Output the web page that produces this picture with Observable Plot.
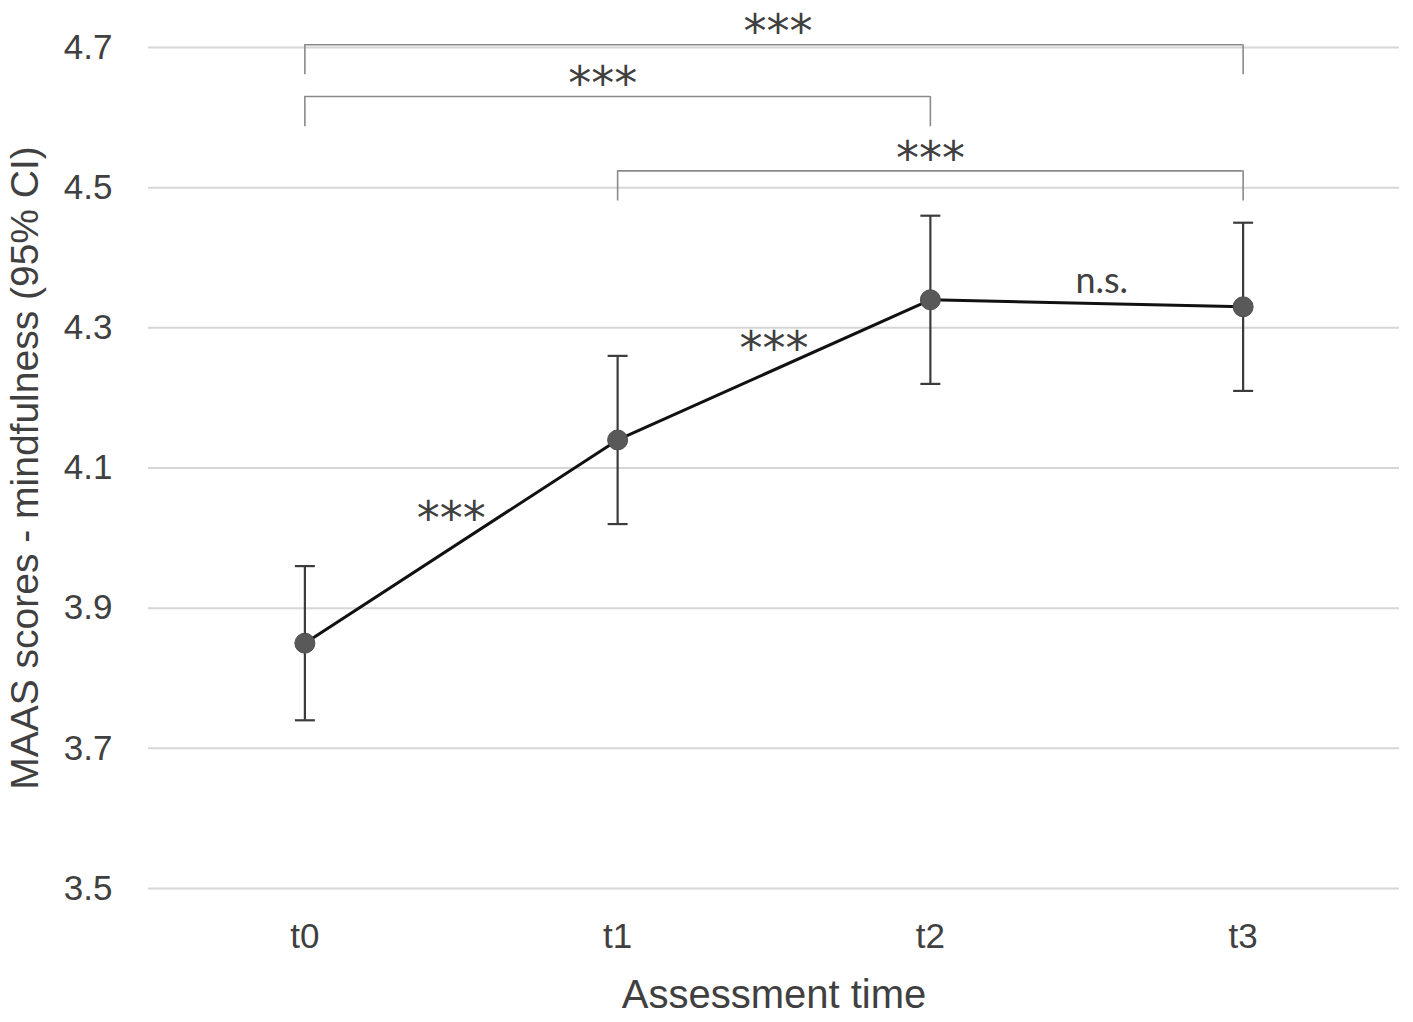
<!DOCTYPE html>
<html>
<head>
<meta charset="utf-8">
<script src="https://cdn.jsdelivr.net/npm/d3@7"></script>
<script src="https://cdn.jsdelivr.net/npm/@observablehq/plot@0.6"></script>
<style>
  html, body { margin: 0; padding: 0; background: #fff; }
  #chart { width: 1413px; height: 1022px; }
</style>
</head>
<body>
<div id="chart"></div>
<script>
// ---- data ----
const times = ["t0", "t1", "t2", "t3"];
const means = [3.85, 4.14, 4.34, 4.33];
const ciLow = [3.74, 4.02, 4.22, 4.21];
const ciHigh = [3.96, 4.26, 4.46, 4.45];
const yTicks = [3.5, 3.7, 3.9, 4.1, 4.3, 4.5, 4.7];
const segmentLabels = ["***", "***", "n.s."];
const bracketFrom = [0, 0, 1];
const bracketTo = [3, 2, 3];
const bracketLabels = ["***", "***", "***"];
const bracketLevel = [4.704, 4.63, 4.524];
const bracketDrop = 0.043;
const yLabel = "MAAS scores - mindfulness (95% CI)";
const xLabel = "Assessment time";

// ---- tables built from arrays ----
const pts = times.map((t, i) => ({i, t, m: means[i], lo: ciLow[i], hi: ciHigh[i]}));
const segs = segmentLabels.map((s, k) => ({
  label: s, x: k + 0.5, y: (means[k] + means[k + 1]) / 2, k
}));
const brackets = bracketLabels.map((s, k) => ({
  label: s, from: bracketFrom[k], to: bracketTo[k],
  level: bracketLevel[k], bottom: bracketLevel[k] - bracketDrop,
  mid: (bracketFrom[k] + bracketTo[k]) / 2, k
}));
const bracketEnds = brackets.flatMap(b => [{x: b.from, y1: b.level, y2: b.bottom}, {x: b.to, y1: b.level, y2: b.bottom}]);

const capSymbol = {
  draw(context, size) {
    const w = Math.sqrt(size / Math.PI);
    context.moveTo(-w, 0);
    context.lineTo(w, 0);
  }
};

const starFont = "DejaVu Sans, sans-serif";
const textColor = "#404040";

const chart = Plot.plot({
  width: 1413,
  height: 1022,
  marginLeft: 148,
  marginRight: 14,
  marginTop: 47,
  marginBottom: 134,
  x: {type: "linear", domain: [-0.5, 3.5]},
  y: {domain: [3.5, 4.7]},
  style: {fontFamily: "Liberation Sans, Arial, sans-serif", background: "#fff", color: textColor},
  marks: [
    Plot.gridY(yTicks, {stroke: "#d6d6d6", strokeOpacity: 1, strokeWidth: 2}),
    Plot.axisY(yTicks, {tickSize: 0, tickPadding: 36, fontSize: 35, tickFormat: d => d.toFixed(1), label: null, fill: textColor}),
    Plot.axisX(times.map((_, i) => i), {tickSize: 0, tickPadding: 35, fontSize: 35, tickFormat: i => times[i], label: null, fill: textColor}),
    // axis titles
    Plot.text([yLabel], {frameAnchor: "left", textAnchor: "middle", dx: -123, rotate: -90, fontSize: 39, fill: textColor, text: d => d}),
    Plot.text([xLabel], {frameAnchor: "bottom", dy: 119, fontSize: 40, fill: textColor, text: d => d}),
    // brackets
    Plot.ruleY(brackets, {x1: "from", x2: "to", y: "level", stroke: "#8a8a8a", strokeWidth: 1.6}),
    Plot.ruleX(bracketEnds, {x: "x", y1: "y1", y2: "y2", stroke: "#8a8a8a", strokeWidth: 1.6}),
    Plot.text(brackets, {filter: b => b.k === 0, x: "mid", y: "level", text: "label", dx: 4, dy: -12, fontSize: 46, fontFamily: starFont, fill: textColor}),
    Plot.text(brackets, {filter: b => b.k === 1, x: "mid", y: "level", text: "label", dx: -15, dy: -12, fontSize: 46, fontFamily: starFont, fill: textColor}),
    Plot.text(brackets, {filter: b => b.k === 2, x: "mid", y: "level", text: "label", dx: 0, dy: -12, fontSize: 46, fontFamily: starFont, fill: textColor}),
    // error bars
    Plot.ruleX(pts, {x: "i", y1: "lo", y2: "hi", stroke: "#3c3c3c", strokeWidth: 2.2}),
    Plot.dot(pts, {x: "i", y: "lo", symbol: capSymbol, r: 10, stroke: "#3c3c3c", strokeWidth: 2.2, fill: "none"}),
    Plot.dot(pts, {x: "i", y: "hi", symbol: capSymbol, r: 10, stroke: "#3c3c3c", strokeWidth: 2.2, fill: "none"}),
    // line and points
    Plot.line(pts, {x: "i", y: "m", stroke: "#111", strokeWidth: 3}),
    Plot.dot(pts, {x: "i", y: "m", r: 10, fill: "#595959", stroke: "#4d4d4d", strokeWidth: 1}),
    // segment labels
    Plot.text(segs, {filter: d => d.k === 0, x: "x", y: "y", text: "label", dx: -10, dy: -22, fontSize: 46, fontFamily: starFont, fill: textColor}),
    Plot.text(segs, {filter: d => d.k === 1, x: "x", y: "y", text: "label", dx: 0, dy: -21, fontSize: 46, fontFamily: starFont, fill: textColor}),
    Plot.text(segs, {filter: d => d.k === 2, x: "x", y: "y", text: "label", dx: 15, dy: -22, fontSize: 36, fontFamily: "Lato, sans-serif", fill: textColor})
  ]
});
document.getElementById("chart").appendChild(chart);
</script>
</body>
</html>
